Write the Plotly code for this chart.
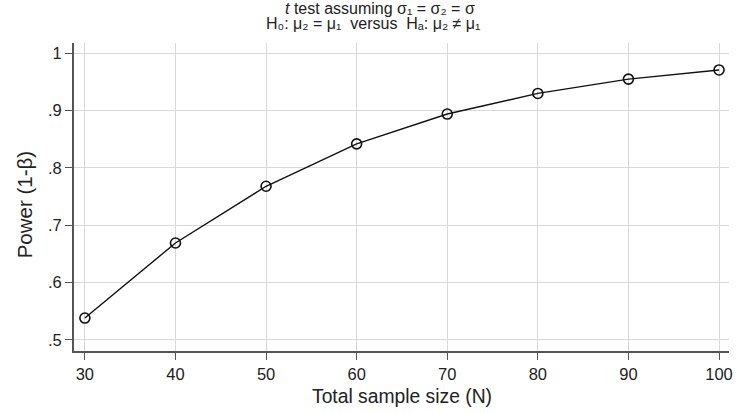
import plotly.graph_objects as go

sample_size = [30, 40, 50, 60, 70, 80, 90, 100]
power = [0.538, 0.669, 0.768, 0.842, 0.894, 0.930, 0.955, 0.971]
y_ticks = [0.5, 0.6, 0.7, 0.8, 0.9, 1.0]
y_tick_labels = [".5", ".6", ".7", ".8", ".9", "1"]
x_ticks = [30, 40, 50, 60, 70, 80, 90, 100]
title_line1 = "<i>t</i> test assuming σ₁ = σ₂ = σ"
title_line2 = "H₀: μ₂ = μ₁  versus  Hₐ: μ₂ ≠ μ₁"
x_title = "Total sample size (N)"
y_title = "Power (1-β)"

W, H = 743, 413
L, R, T, B = 74, 10, 43, 62
pw, ph = W - L - R, H - T - B


def px_to_paper_x(px):
    return (px - L) / pw


def px_to_paper_y(py):
    return (H - B - py) / ph


fig = go.Figure()
fig.add_trace(go.Scatter(
    x=sample_size, y=power, mode="lines+markers",
    line=dict(color="#111", width=1.4),
    marker=dict(symbol="circle-open", size=10, color="#111", line=dict(width=1.6)),
    showlegend=False,
))

font = "Liberation Sans, Arial, sans-serif"
txt = "#222"
fig.update_layout(
    width=W, height=H,
    margin=dict(l=L, r=R, t=T, b=B),
    paper_bgcolor="white", plot_bgcolor="white",
    font=dict(family=font, color=txt, size=16.5),
    xaxis=dict(
        range=[28.8, 101.1], tickvals=x_ticks,
        showline=True, linecolor="#555", linewidth=2,
        ticks="outside", ticklen=7, tickcolor="#555", tickwidth=1,
        showgrid=True, gridcolor="#d9d9d9", gridwidth=1, zeroline=False,
        tickfont=dict(size=16.5, color=txt),
    ),
    yaxis=dict(
        range=[0.4805, 1.018], tickvals=y_ticks, ticktext=y_tick_labels,
        showline=True, linecolor="#555", linewidth=2,
        ticks="outside", ticklen=7, tickcolor="#555", tickwidth=1,
        showgrid=True, gridcolor="#d9d9d9", gridwidth=1, zeroline=False,
        tickfont=dict(size=16.5, color=txt),
    ),
    annotations=[
        dict(text=title_line1, xref="paper", yref="paper",
             x=px_to_paper_x(382), y=px_to_paper_y(8), xanchor="center", yanchor="middle",
             showarrow=False, font=dict(size=16, color=txt)),
        dict(text=title_line2, xref="paper", yref="paper",
             x=px_to_paper_x(375), y=px_to_paper_y(24), xanchor="center", yanchor="middle",
             showarrow=False, font=dict(size=16, color=txt)),
        dict(text=x_title, xref="paper", yref="paper",
             x=px_to_paper_x(404), y=px_to_paper_y(396), xanchor="center", yanchor="middle",
             showarrow=False, font=dict(size=19.3, color=txt)),
        dict(text=y_title, xref="paper", yref="paper", textangle=-90,
             x=px_to_paper_x(24), y=px_to_paper_y(205), xanchor="center", yanchor="middle",
             showarrow=False, font=dict(size=20.5, color=txt)),
    ],
)
fig.write_html("out.html")
